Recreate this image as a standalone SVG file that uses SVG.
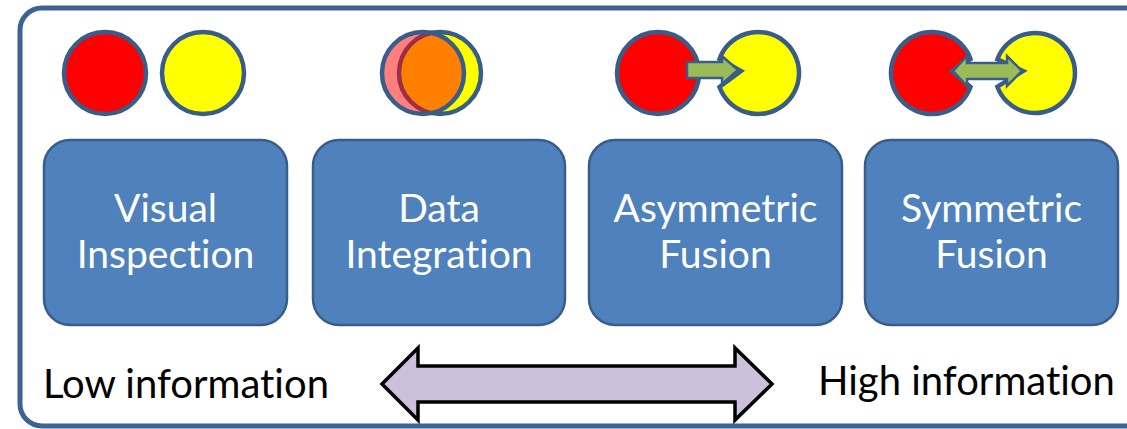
<svg xmlns="http://www.w3.org/2000/svg" width="1127" height="429" viewBox="0 0 1127 429">
<style>
.box{fill:#4f81bd;stroke:#385d8a;stroke-width:2.5}
.lbl{font-family:Lato,"Open Sans",sans-serif;font-size:39px;fill:#ffffff;text-anchor:middle;font-variant-ligatures:none}
.side{font-family:Lato,"Open Sans",sans-serif;font-size:40px;fill:#000000;font-variant-ligatures:none}
.c{stroke:#385d8a;stroke-width:4.5}
.red{fill:#ff0000}
.yel{fill:#ffff00}
.garrow{fill:#9bbb59;stroke:#385d8a;stroke-width:2.5;stroke-linejoin:miter}
</style>
<rect width="1127" height="429" fill="#ffffff"/>
<rect id="frame" x="20" y="8" width="1135" height="418" rx="22" ry="22" fill="none" stroke="#3c6394" stroke-width="5"/>

<g id="visual-inspection">
<circle class="c red" cx="105" cy="73" r="41"/>
<circle class="c yel" cx="203" cy="73" r="41"/>
<rect class="box" x="44" y="140" width="243" height="185" rx="26"/>
<text class="lbl" x="165.5" y="222">Visual</text>
<text class="lbl" x="165.5" y="268">Inspection</text>
</g>

<g id="data-integration">
<circle class="c yel" cx="440" cy="73" r="41"/>
<circle class="c" cx="423" cy="73" r="41" fill="#ff0000" fill-opacity="0.5"/>
<rect class="box" x="313" y="140" width="252" height="185" rx="26"/>
<text class="lbl" x="439" y="222">Data</text>
<text class="lbl" x="439" y="268">Integration</text>
</g>

<g id="asymmetric-fusion">
<circle class="c red" cx="658" cy="73" r="41"/>
<path class="c yel" d="M719.5 59 A41 41 0 1 1 719.5 87 L741 71 Z"/>
<path class="garrow" d="M687 62 L722 62 L722 56 L738 70 L722 84 L722 78 L687 78 Z"/>
<rect class="box" x="589" y="140" width="253" height="185" rx="26"/>
<text class="lbl" x="715.5" y="222">Asymmetric</text>
<text class="lbl" x="715.5" y="268">Fusion</text>
</g>

<g id="symmetric-fusion">
<path class="c red" d="M970.5 87 A41 41 0 1 1 970.5 59 L952 71 Z"/>
<path class="c yel" d="M997.4 59.3 A40 40 0 1 1 997.4 86.7 L1023 71 Z"/>
<path class="garrow" d="M953 71 L967 56 L967 63 L1007 63 L1007 56 L1022 71 L1007 86 L1007 79 L967 79 L967 86 Z"/>
<rect class="box" x="865" y="140" width="253" height="185" rx="26"/>
<text class="lbl" x="991.5" y="222">Symmetric</text>
<text class="lbl" x="991.5" y="268">Fusion</text>
</g>

<g id="connectors">
<path d="M382 384 L418 348 L418 366 L735 366 L735 348 L772 384 L735 420 L735 402 L418 402 L418 420 Z" fill="#ccc1da" stroke="#000000" stroke-width="3.5" stroke-linejoin="miter"/>
</g>

<text class="side" x="43" y="398">Low information</text>
<text class="side" x="818" y="395">High information</text>
</svg>
